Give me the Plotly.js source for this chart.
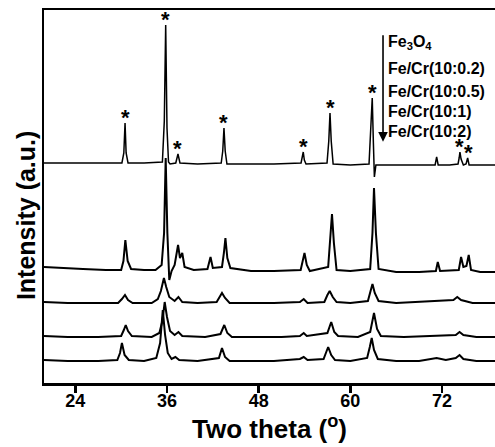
<!DOCTYPE html>
<html>
<head>
<meta charset="utf-8">
<script src="https://cdn.plot.ly/plotly-3.0.1.min.js"></script>
<style>html,body{margin:0;padding:0;background:#fff;overflow:hidden}#chart{width:495px;height:447px}</style>
</head>
<body>
<div id="chart"></div>
<script>
// Series names (top to bottom)
const seriesNames = ["Fe<sub>3</sub>O<sub>4</sub>", "Fe/Cr(10:0.2)", "Fe/Cr(10:0.5)", "Fe/Cr(10:1)", "Fe/Cr(10:2)"];

// [two theta (deg), intensity (a.u., stacked as drawn)]
const fe3o4 = [[19.9,220],[24,220],[28,220],[30.1,220],[30.35,230],[30.51,260],[30.65,230],[30.9,220],[33,220],
  [35.4,221],[35.65,262],[35.83,358],[36.0,255],[36.2,221],[36.4,219],[37.15,220],[37.44,229],[37.7,220],[40,219],
  [43.1,220],[43.3,232],[43.46,255],[43.62,232],[43.85,219],[47,219],[50,219],[53.55,220],[53.72,225],[53.84,231],[53.98,223],[54.2,219],
  [56.95,220],[57.18,242],[57.34,270],[57.5,242],[57.75,219],[60,218],[62.45,219],[62.7,252],[62.87,285],[63.02,240],[63.15,206],[63.35,218],
  [66,218],[69,218],[71.1,218],[71.3,226],[71.5,218],[73,218],[74.1,219],[74.25,225],[74.35,231],[74.5,224],[74.8,218],
  [75.15,219],[75.36,225],[75.55,218],[77,218],[78.94,218]];

const fecr02 = [[19.9,116],[22,115],[25,114],[28,113],[30.0,113],[30.3,122],[30.55,143],[30.85,122],[31.3,114],[33,113],[34.5,113],
  [35.3,118],[35.62,150],[35.83,225],[36.05,150],[36.3,103],[36.6,112],[37.0,118],[37.3,132],[37.45,138],[37.7,125],[38.0,130],[38.3,116],
  [39.5,113],[41.3,114],[41.7,126],[42.0,115],[43.2,116],[43.45,130],[43.65,145],[43.9,125],[44.3,115],[47,112],[50,112],
  [53.5,113],[53.8,122],[54.0,130],[54.3,118],[54.7,112],[57.1,116],[57.4,150],[57.6,169],[57.85,140],[58.2,113],[60,112],
  [62.6,114],[62.9,150],[63.1,195],[63.35,150],[63.7,114],[66,111],[69,111],[71.2,112],[71.45,121],[71.75,112],
  [74.2,113],[74.5,126],[74.8,116],[75.2,117],[75.5,128],[75.8,113],[77,111],[78.94,111]];

const fecr05 = [[19.9,81],[23,80],[26,80],[29.6,80],[30.1,84],[30.5,88],[30.9,83],[31.5,80],[34,80],[34.8,84],[35.2,92],[35.6,105],
  [35.9,96],[36.3,86],[37.0,82],[37.5,86],[38.0,81],[40,80],[42.5,81],[42.9,86],[43.2,90],[43.6,85],[44.2,80],[47,80],[50,80],
  [53.4,81],[53.9,84],[54.4,80],[56.6,81],[57.0,88],[57.3,92],[57.7,86],[58.2,81],[60,80],[62.3,82],[62.65,92],[62.9,99],[63.2,90],
  [63.7,82],[66,80],[69,81],[71.3,82],[73.5,83],[74.0,86],[74.5,83],[76,80],[78.94,80]];

const fecr1 = [[19.9,47],[23,46],[27,46],[30.0,47],[30.35,53],[30.6,58],[30.9,52],[31.4,47],[34,46],[35.0,50],[35.4,62],[35.7,81],
  [36.0,66],[36.4,52],[37.0,48],[37.5,51],[38.0,47],[41,46],[43.0,49],[43.5,58],[43.9,50],[44.5,46],[48,46],[51,46],
  [53.4,47],[53.9,50],[54.3,47],[57.0,50],[57.5,61],[57.9,51],[58.4,47],[61,46],[62.6,51],[63.1,70],[63.5,54],[64.0,47],
  [67,46],[71,47],[73.8,48],[74.3,51],[74.8,48],[76.5,46],[78.94,46]];

const fecr2 = [[19.9,23],[23,22],[27,22],[29.5,23],[29.85,30],[30.1,40],[30.45,28],[31.0,23],[33,22],[34.6,25],[35.1,40],[35.45,73],
  [35.75,48],[36.1,30],[36.6,24],[37.1,26],[37.6,23],[40,22],[42.8,25],[43.2,35],[43.6,26],[44.2,22],[47,22],[50,22],
  [53.4,24],[53.9,26],[54.4,23],[56.5,24],[56.8,30],[57.1,36],[57.5,28],[58.0,23],[60,22],[62.2,25],[62.55,36],[62.8,45],
  [63.1,33],[63.6,24],[66,22],[69,22],[71.3,25],[72.5,23],[73.8,25],[74.3,28],[74.8,24],[76.5,22],[78.94,22]];

// Fe3O4 reflections marked with asterisks: [two theta, peak intensity]
const starPeaks = [[30.51,260],[35.83,358],[37.44,229],[43.46,255],[53.84,231],[57.34,270],[62.87,285],[74.35,231],[75.5,225]];

const xTicks = [24, 36, 48, 60, 72];

const allSeries = [fe3o4, fecr02, fecr05, fecr1, fecr2];
const widths = [1.5, 2, 2, 2, 2];

const traces = allSeries.map((s, i) => ({
  type: 'scatter', mode: 'lines',
  x: s.map(p => p[0]), y: s.map(p => p[1]),
  name: seriesNames[i],
  line: {color: '#000', width: widths[i]},
  showlegend: false, hoverinfo: 'skip'
}));

const font = 'Liberation Sans, Arial, Helvetica, sans-serif';
const annotations = [];
starPeaks.forEach(p => annotations.push({
  x: p[0], y: p[1], xref: 'x', yref: 'y', text: '*', showarrow: false,
  xanchor: 'center', yanchor: 'bottom', yshift: -9,
  font: {family: font, size: 22, color: '#000', weight: 'bold'}
}));
// arrow
annotations.push({
  x: 0.7517, y: 0.647, xref: 'paper', yref: 'paper', ax: 0, ay: -108, axref: 'pixel', ayref: 'pixel',
  showarrow: true, arrowhead: 2, arrowsize: 1.2, arrowwidth: 1.6, arrowcolor: '#000', text: ''
});
const legendY = [0.913, 0.843, 0.7815, 0.727, 0.673];
seriesNames.forEach((n, i) => annotations.push({
  x: 0.758, y: legendY[i], xref: 'paper', yref: 'paper', text: n, showarrow: false,
  xanchor: 'left', yanchor: 'middle',
  font: {family: font, size: 16, color: '#000', weight: 'bold'}
}));
// y axis title placed to match the reference
annotations.push({
  x: -0.04, y: 0.45, xref: 'paper', yref: 'paper', text: 'Intensity (a.u.)', showarrow: false,
  textangle: -90, xanchor: 'center', yanchor: 'middle',
  font: {family: font, size: 25, color: '#000', weight: 'bold'}
});

const layout = {
  width: 495, height: 447,
  margin: {l: 44, r: 0, t: 10, b: 64},
  paper_bgcolor: '#fff', plot_bgcolor: '#fff',
  showlegend: false,
  font: {family: font, color: '#000'},
  xaxis: {
    range: [19.9, 78.94], tickvals: xTicks, ticktext: xTicks.map(String),
    ticks: 'outside', ticklen: 7, tickwidth: 2.5, tickcolor: '#000',
    showline: true, linewidth: 2.5, linecolor: '#000', mirror: true,
    showgrid: false, zeroline: false, ticklabelstandoff: -7,
    tickfont: {family: font, size: 18, color: '#000', weight: 'bold'},
    title: {text: 'Two theta (<sup>o</sup>)', standoff: 2, font: {family: font, size: 26, color: '#000', weight: 'bold'}}
  },
  yaxis: {
    range: [0, 373], showticklabels: false, ticks: '',
    showline: true, linewidth: 2.5, linecolor: '#000', mirror: false,
    showgrid: false, zeroline: false
  },
  annotations: annotations
};

Plotly.newPlot('chart', traces, layout, {displayModeBar: false, staticPlot: true});
</script>
</body>
</html>
